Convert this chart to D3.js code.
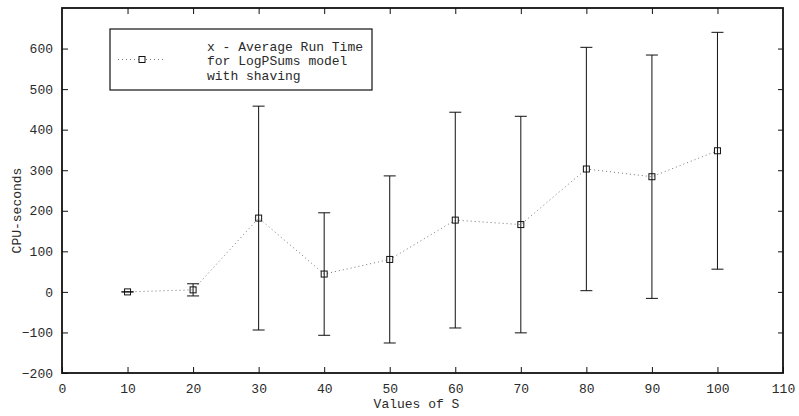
<!DOCTYPE html>
<html>
  <head>
    <meta charset="utf-8">
    <script src="https://d3js.org/d3.v7.min.js"></script>
    <style>
      body { margin: 0; background: #fff; overflow: hidden; }
      svg { display: block; }
    </style>
  </head>
  <body>
    <svg></svg>
    <script>
      // values
      const sValues = [10, 20, 30, 40, 50, 60, 70, 80, 90, 100];
      const meanTimes = [0, 5, 182, 44, 80, 177, 166, 303, 284, 348];
      const errHalf = [0, 15, 276, 151, 206, 266, 267, 300, 300, 292];
      const xTicks = [0, 10, 20, 30, 40, 50, 60, 70, 80, 90, 100, 110];
      const yTicks = [-200, -100, 0, 100, 200, 300, 400, 500, 600, 700];
      const legendLines = ['x - Average Run Time', 'for LogPSums model', 'with shaving'];

      const width = 799, height = 416;
      const margin = { top: 8, right: 16, bottom: 43, left: 62 };
      const innerWidth = width - margin.left - margin.right;
      const innerHeight = height - margin.top - margin.bottom;
      const font = '"Liberation Mono", "DejaVu Sans Mono", monospace';

      const svg = d3.select('svg')
        .attr('width', width)
        .attr('height', height)
        .attr('font-family', font)
        .attr('font-size', 13);

      const g = svg.append('g')
        .attr('transform', `translate(${margin.left},${margin.top})`);

      const xScale = d3.scaleLinear().domain([0, 110]).range([0, innerWidth]);
      const yScale = d3.scaleLinear().domain([-200, 700]).range([innerHeight, 0]);

      const data = sValues.map((s, i) => ({ s: s, m: meanTimes[i], e: errHalf[i] }));

      // axes with inward ticks
      const xAxisG = g.append('g')
        .attr('transform', `translate(0,${innerHeight})`)
        .call(d3.axisBottom(xScale).tickValues(xTicks).tickSize(-6).tickPadding(11).tickSizeOuter(0));
      const yAxisG = g.append('g')
        .call(d3.axisLeft(yScale).tickValues(yTicks.slice(0, -1)).tickSize(-6).tickPadding(9).tickSizeOuter(0)
          .tickFormat(d => String(d).replace('-', '\u2212')));
      const topG = g.append('g')
        .call(d3.axisTop(xScale).tickValues(xTicks.slice(1, -1)).tickSize(-6).tickSizeOuter(0));
      const rightG = g.append('g')
        .attr('transform', `translate(${innerWidth},0)`)
        .call(d3.axisRight(yScale).tickValues(yTicks.slice(1, -1)).tickSize(-5).tickSizeOuter(0));

      topG.selectAll('text').remove();
      rightG.selectAll('text').remove();

      [xAxisG, yAxisG, topG, rightG].forEach(a => {
        a.attr('font-family', font).attr('font-size', 13);
        a.selectAll('.domain').remove();
        a.selectAll('line').attr('stroke', '#111');
        a.selectAll('text').attr('fill', '#2a2a2a');
      });

      // frame
      g.append('rect')
        .attr('x', 0).attr('y', 0)
        .attr('width', innerWidth).attr('height', innerHeight)
        .attr('fill', 'none')
        .attr('stroke', '#111')
        .attr('stroke-width', 1.8);

      // dotted mean line
      const line = d3.line().x(d => xScale(d.s)).y(d => yScale(d.m));
      g.append('path')
        .datum(data)
        .attr('d', line)
        .attr('fill', 'none')
        .attr('stroke', '#777')
        .attr('stroke-width', 1)
        .attr('stroke-dasharray', '1,3');

      // error bars
      const bars = g.selectAll('.err').data(data).enter().append('g').attr('class', 'err');
      bars.append('line')
        .attr('x1', d => xScale(d.s)).attr('x2', d => xScale(d.s))
        .attr('y1', d => yScale(d.m - d.e)).attr('y2', d => yScale(d.m + d.e))
        .attr('stroke', '#111');
      bars.append('line')
        .attr('x1', d => xScale(d.s) - 6).attr('x2', d => xScale(d.s) + 6)
        .attr('y1', d => yScale(d.m + d.e)).attr('y2', d => yScale(d.m + d.e))
        .attr('stroke', '#111');
      bars.append('line')
        .attr('x1', d => xScale(d.s) - 6).attr('x2', d => xScale(d.s) + 6)
        .attr('y1', d => yScale(d.m - d.e)).attr('y2', d => yScale(d.m - d.e))
        .attr('stroke', '#111');

      // square markers
      g.selectAll('.mark').data(data).enter().append('rect')
        .attr('class', 'mark')
        .attr('x', d => xScale(d.s) - 3)
        .attr('y', d => yScale(d.m) - 3)
        .attr('width', 6).attr('height', 6)
        .attr('fill', 'none')
        .attr('stroke', '#111');

      // axis labels
      svg.append('text')
        .attr('x', margin.left + innerWidth / 2 - 6)
        .attr('y', 408)
        .attr('text-anchor', 'middle')
        .attr('fill', '#2a2a2a')
        .text('Values of S');
      svg.append('text')
        .attr('transform', `translate(21,${margin.top + innerHeight / 2 + 20}) rotate(-90)`)
        .attr('text-anchor', 'middle')
        .attr('fill', '#2a2a2a')
        .text('CPU-seconds');

      // legend
      const leg = svg.append('g').attr('transform', 'translate(110,29)');
      leg.append('rect')
        .attr('width', 262).attr('height', 61)
        .attr('fill', '#fff')
        .attr('stroke', '#111')
        .attr('stroke-width', 1.2);
      leg.append('line')
        .attr('x1', 8).attr('x2', 53).attr('y1', 30.5).attr('y2', 30.5)
        .attr('stroke', '#777')
        .attr('stroke-dasharray', '1,3');
      leg.append('rect')
        .attr('x', 29).attr('y', 27.5).attr('width', 6).attr('height', 6)
        .attr('fill', '#fff').attr('stroke', '#111');
      leg.selectAll('.lt').data(legendLines).enter().append('text')
        .attr('class', 'lt')
        .attr('x', 97)
        .attr('y', (d, i) => 22 + i * 14.3)
        .attr('fill', '#2a2a2a')
        .text(d => d);
    </script>
  </body>
</html>
